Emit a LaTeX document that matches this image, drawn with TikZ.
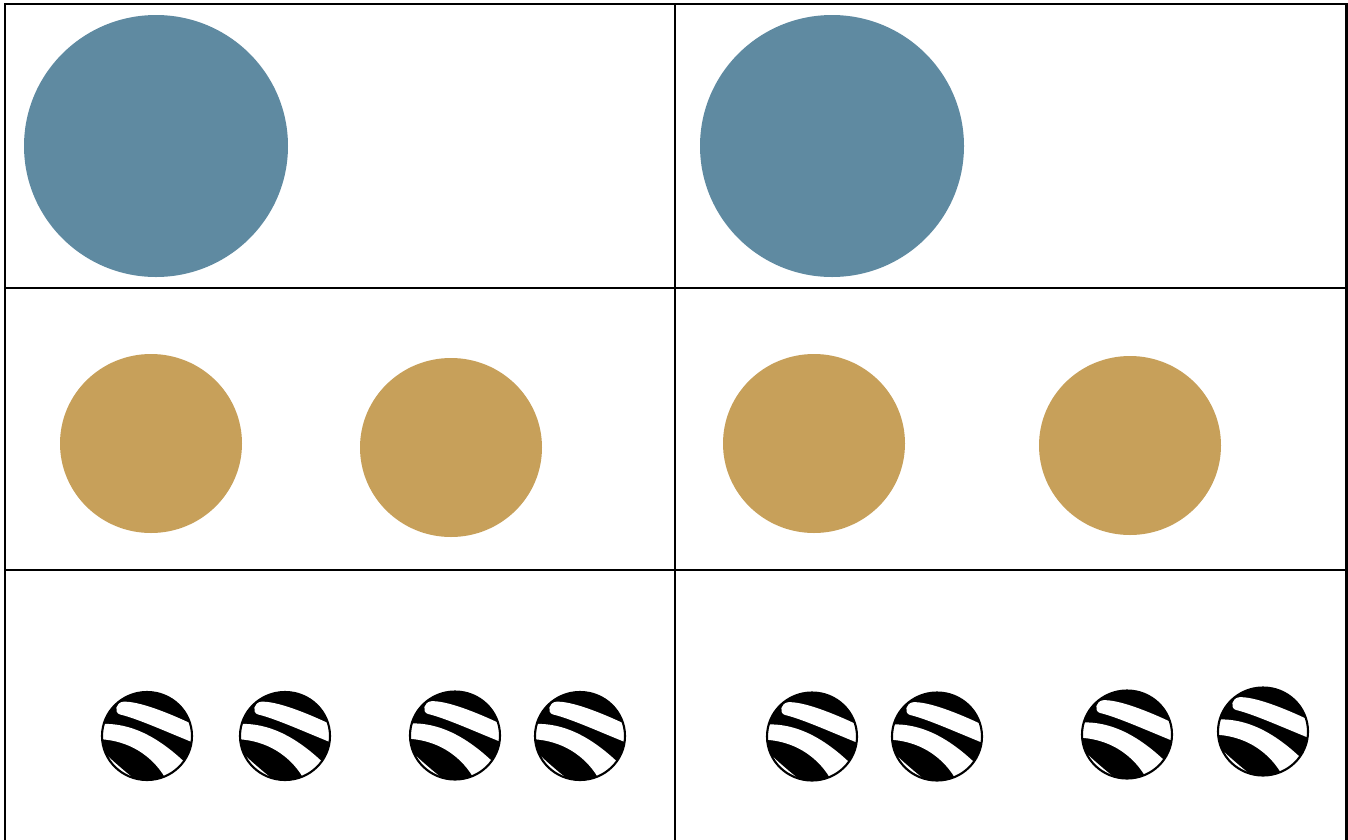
\documentclass[tikz,border=0pt]{standalone}
\usepackage{tikz}

\definecolor{slate}{RGB}{95,138,161}
\definecolor{ochre}{RGB}{199,160,90}

\tikzset{zebra/.pic={
  \fill[black] (0,0) circle (1);
  \begin{scope}
    \clip (0,0) circle (1);
    % stripes
    \fill[white] (-0.52,-0.78) .. controls (-0.2,-0.79) and (0.4,-0.57) .. (1.15,-0.2)
      -- (1.1,0.18) .. controls (0.4,-0.11) and (-0.2,-0.39) .. (-0.6,-0.49)
      .. controls (-0.74,-0.53) and (-0.7,-0.77) .. cycle;
    \fill[white] (-1.2,-0.26) .. controls (-0.5,-0.35) and (0.2,-0.08) .. (1.0,0.76)
      -- (0.5,1.15) .. controls (0.28,0.6) and (-0.3,0.05) .. (-1.2,0.07) -- cycle;
    % crescent
    \fill[white] (155:1) arc (155:108:1) .. controls (-0.5,0.8) and (-0.78,0.55) .. cycle;
  \end{scope}
  \draw[black, line width=0.6pt] (0,0) circle (1);
}}

\begin{document}
\begin{tikzpicture}[x=0.01cm, y=-0.01cm, rule/.style={line width=0.7pt, line cap=rect}]
\useasboundingbox (0,0) rectangle (1348,839);
\foreach \a in {5,675,1346.5} {\draw[rule] (\a,4) -- (\a,839);}
\foreach \b in {4,288,570} {\draw[rule] (5,\b) -- (1346.5,\b);}
% row 1
\foreach \a in {156,832} {\fill[slate] (\a,146) ellipse (132 and 131);}
% row 2
\foreach \a/\b in {151/443.5,451/447.5,814/443.5,1130/445.5} {\fill[ochre] (\a,\b) ellipse (91 and 89.5);}
% row 3
\foreach \a/\b in {147/736,285/736,455/735.5,580/736,812/736.5,937/736.5,1127/734.5,1263/731.5}
  {\pic[xscale=45, yscale=44] at (\a,\b) {zebra};}
\end{tikzpicture}
\end{document}
